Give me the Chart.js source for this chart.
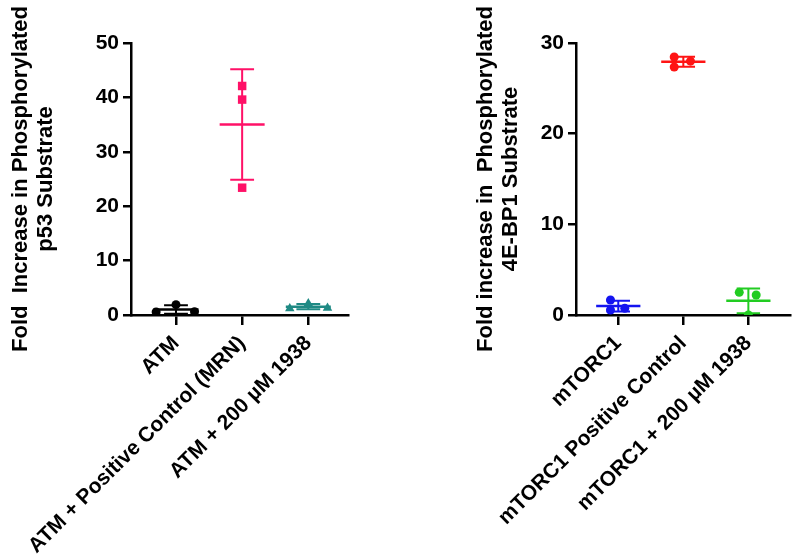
<!DOCTYPE html>
<html>
<head>
<meta charset="utf-8">
<script src="https://cdn.jsdelivr.net/npm/chart.js@4"></script>
<style>
  html, body { margin: 0; padding: 0; background: #fff; }
  #wrap { position: relative; width: 800px; height: 559px; }
  .box { position: absolute; top: 0; width: 400px; height: 559px; }
</style>
</head>
<body>
<div id="wrap">
  <div class="box" style="left:0"><canvas id="atmChart"></canvas></div>
  <div class="box" style="left:400px"><canvas id="mtorChart"></canvas></div>
</div>
<script>
/******************** DATA ******************/
const atmLabels = ['ATM', 'ATM + Positive Control (MRN)', 'ATM + 200 \u00b5M 1938'];
const atmValues = [
  [1.9, 0.55, 0.6],
  [42.1, 39.6, 23.4],
  [1.2, 2.1, 1.3]
];
const atmColors = ['#000000', '#ff1167', '#1f8a84'];
const atmShapes = ['circle', 'rect', 'triangle'];
const atmTicks = [0, 10, 20, 30, 40, 50];

const mtorLabels = ['mTORC1', 'mTORC1 Positive Control', 'mTORC1 + 200 \u00b5M 1938'];
const mtorValues = [
  [1.65, 0.55, 0.75],
  [28.45, 27.35, 28.0],
  [2.5, 2.2, 0.0]
];
const mtorColors = ['#1414f0', '#ff1414', '#22cc22'];
const mtorShapes = ['circle', 'circle', 'circle'];
const mtorTicks = [0, 10, 20, 30];

// horizontal scatter of the replicate dots inside each group
const atmJitter = [[0, -0.3, 0.28], [0, 0, 0], [-0.28, 0, 0.29]];
const mtorJitter = [[-0.12, -0.12, 0.1], [-0.14, -0.14, 0.11], [-0.14, 0.12, 0]];

const FONT = "'Liberation Sans', Arial, sans-serif";

/******************** HELPERS ******************/
function mean(arr) {
  return arr.reduce((a, b) => a + b, 0) / arr.length;
}

function sd(arr) {
  const m = mean(arr);
  return Math.sqrt(arr.reduce((a, b) => a + (b - m) * (b - m), 0) / (arr.length - 1));
}

// marker sizes differ a bit by shape so they look the same size
function radiusFor(shape) {
  return shape === 'rect' ? 6 : shape === 'triangle' ? 5.5 : 4.5;
}

// mean line + SD error bars, drawn under the dots
const meanSdPlugin = {
  id: 'meanSd',
  beforeDatasetsDraw(chart, args, opts) {
    const ctx = chart.ctx;
    const xs = chart.scales.x, ys = chart.scales.y;
    opts.groups.forEach((vals, i) => {
      const m = mean(vals), s = sd(vals);
      const cx = xs.getPixelForValue(i + 1);
      const yM = ys.getPixelForValue(m);
      const yHi = ys.getPixelForValue(m + s);
      const yLo = ys.getPixelForValue(m - s);
      const half = xs.getPixelForValue(i + 1 + 0.34) - cx;
      const cap = xs.getPixelForValue(i + 1 + 0.18) - cx;
      ctx.save();
      ctx.strokeStyle = opts.colors[i];
      ctx.lineWidth = 2.5;
      ctx.beginPath();
      ctx.moveTo(cx - half, yM); ctx.lineTo(cx + half, yM);
      ctx.stroke();
      ctx.lineWidth = 2;
      ctx.beginPath();
      ctx.moveTo(cx, yHi); ctx.lineTo(cx, yLo);
      ctx.moveTo(cx - cap, yHi); ctx.lineTo(cx + cap, yHi);
      ctx.moveTo(cx - cap, yLo); ctx.lineTo(cx + cap, yLo);
      ctx.stroke();
      ctx.restore();
    });
  }
};

function buildChart(id, cfg) {
  const datasets = cfg.values.map((vals, i) => ({
    data: vals.map((v, j) => ({ x: i + 1 + cfg.jitter[i][j], y: v })),
    pointStyle: cfg.shapes[i],
    pointRadius: radiusFor(cfg.shapes[i]),
    pointBackgroundColor: cfg.colors[i],
    pointBorderColor: cfg.colors[i],
    pointBorderWidth: 0,
    showLine: false
  }));

  return new Chart(document.getElementById(id), {
    type: 'scatter',
    data: { datasets },
    plugins: [meanSdPlugin],
    options: {
      responsive: false,
      animation: false,
      events: [],
      layout: { padding: cfg.padding },
      plugins: {
        legend: { display: false },
        tooltip: { enabled: false },
        meanSd: { groups: cfg.values, colors: cfg.colors }
      },
      scales: {
        x: {
          type: 'linear',
          min: cfg.xMin,
          max: cfg.xMax,
          afterBuildTicks: s => { s.ticks = cfg.labels.map((_, i) => ({ value: i + 1 })); },
          afterFit: s => { s.height = cfg.xHeight; },
          border: { display: true, color: '#000', width: 2.5 },
          grid: { display: true, drawOnChartArea: false, drawTicks: true, tickLength: 10, color: '#000', lineWidth: 2.5 },
          ticks: {
            autoSkip: false,
            minRotation: 45,
            maxRotation: 45,
            padding: 6,
            color: '#000',
            font: { family: FONT, size: 21, weight: 'bold' },
            callback: v => cfg.labels[v - 1]
          }
        },
        y: {
          min: 0,
          max: cfg.yTicks[cfg.yTicks.length - 1],
          afterBuildTicks: s => { s.ticks = cfg.yTicks.map(v => ({ value: v })); },
          afterFit: s => { s.width = cfg.yWidth; },
          border: { display: true, color: '#000', width: 2.5 },
          grid: { display: true, drawOnChartArea: false, drawTicks: true, tickLength: 8, color: '#000', lineWidth: 2.5 },
          ticks: {
            padding: 4,
            color: '#000',
            font: { family: FONT, size: 21, weight: 'bold' }
          },
          title: {
            display: true,
            text: cfg.title,
            color: '#000',
            padding: { top: 0, bottom: 0 },
            font: { family: FONT, size: 22, weight: 'bold', lineHeight: 1.15 }
          }
        }
      }
    }
  });
}

/******************** INIT ******************/
document.getElementById('atmChart').width = 400;
document.getElementById('atmChart').height = 559;
document.getElementById('mtorChart').width = 400;
document.getElementById('mtorChart').height = 559;

buildChart('atmChart', {
  labels: atmLabels,
  values: atmValues,
  colors: atmColors,
  shapes: atmShapes,
  jitter: atmJitter,
  yTicks: atmTicks,
  title: ['Fold  Increase in Phosphorylated', 'p53 Substrate'],
  xMin: 0.32, xMax: 3.6,
  xHeight: 244, yWidth: 123,
  padding: { left: 8, top: 43, right: 52, bottom: 0 }
});

buildChart('mtorChart', {
  labels: mtorLabels,
  values: mtorValues,
  colors: mtorColors,
  shapes: mtorShapes,
  jitter: mtorJitter,
  yTicks: mtorTicks,
  title: ['Fold increase in  Phosphorylated', '4E-BP1 Substrate'],
  xMin: 0.35, xMax: 3.64,
  xHeight: 244, yWidth: 103,
  padding: { left: 73, top: 43, right: 10, bottom: 0 }
});
</script>
</body>
</html>
